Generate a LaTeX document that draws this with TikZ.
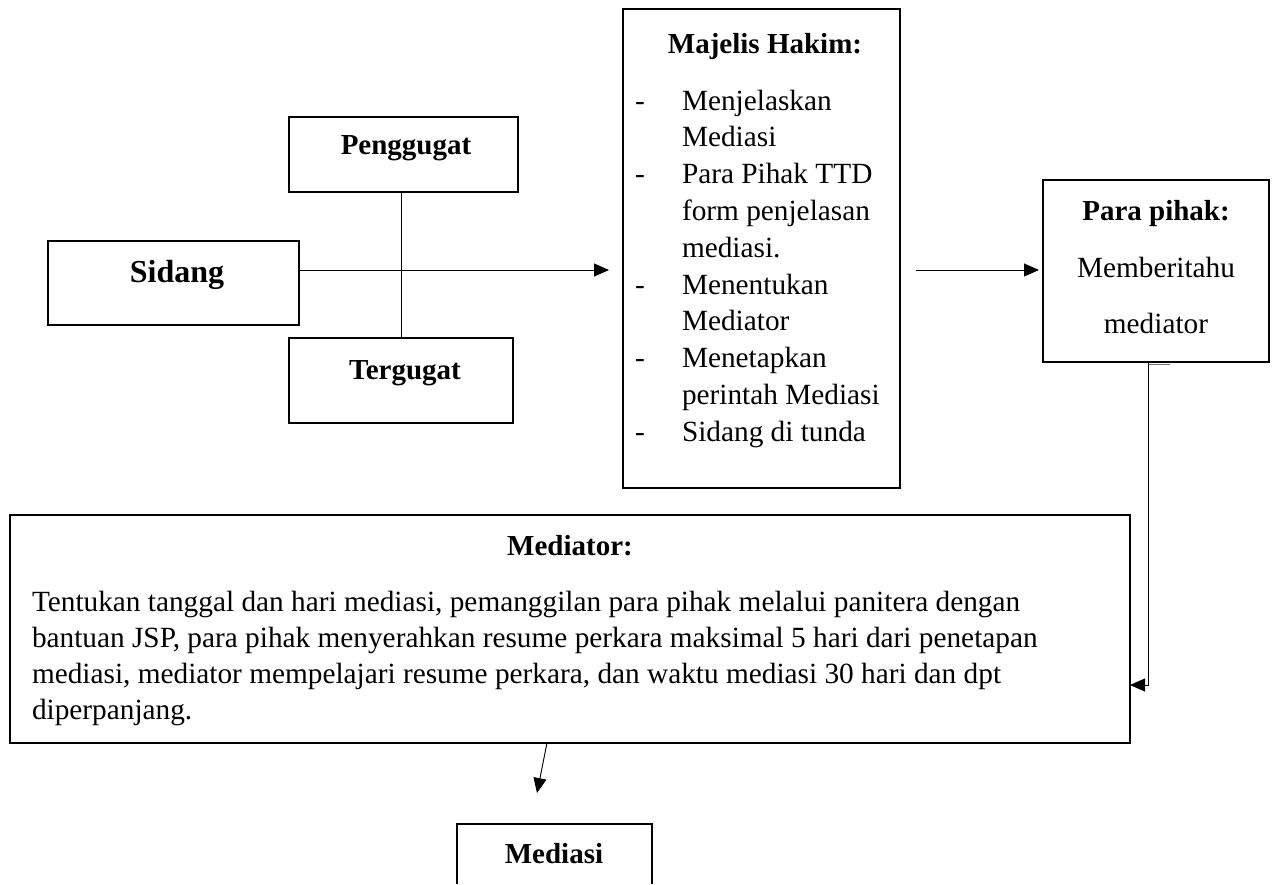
\documentclass[tikz,border=0pt]{standalone}
\usepackage{fontspec}
\setmainfont{Liberation Serif}
\usetikzlibrary{arrows.meta,calc}
\tikzset{
  box/.style={draw=black, line width=1.8pt, inner sep=0pt, outer sep=0pt},
  conn/.style={draw=black, line width=0.9pt},
  arr/.style={conn, -{Triangle[length=15pt,width=13pt]}},
  txt/.style={font=\fontsize{29.3}{35}\selectfont, inner sep=0pt, outer sep=0pt},
  bld/.style={font=\fontsize{29}{35}\selectfont\bfseries, inner sep=0pt, outer sep=0pt},
}
\begin{document}
\begin{tikzpicture}[x=1pt,y=-1pt]
\useasboundingbox (0,0) rectangle (1275,884);
% boxes
\node[box, minimum width=251pt, minimum height=84pt] (sidang) at (173.5,283) {};
\node[box, minimum width=229pt, minimum height=75pt] (penggugat) at (403.5,154.5) {};
\node[box, minimum width=224pt, minimum height=85pt] (tergugat) at (401,380.5) {};
\node[box, minimum width=277pt, minimum height=479pt] (majelis) at (761.5,248.5) {};
\node[box, minimum width=226pt, minimum height=182pt] (parapihak) at (1156,271) {};
\node[box, minimum width=1120pt, minimum height=228pt] (mediator) at (570,629) {};
\node[inner sep=0pt, outer sep=0pt, minimum width=195pt, minimum height=60pt] (mediasi) at (554.5,854) {};
\draw[line width=1.8pt] (mediasi.south west) -- (mediasi.north west) -- (mediasi.north east) -- (mediasi.south east);
% texts
\node[bld, font=\fontsize{32}{38}\selectfont\bfseries, anchor=base] (tsidang) at (177,282) {Sidang};
\node[bld, anchor=base] (tpeng) at (406,154) {Penggugat};
\node[bld, anchor=base] (tterg) at (405,379) {Tergugat};
\node[bld, anchor=base] (tmaj) at (765,53) {Majelis Hakim:};
\foreach \t [count=\i] in {Menjelaskan, Mediasi, Para Pihak TTD, form penjelasan, mediasi., Menentukan, Mediator, Menetapkan, perintah Mediasi, Sidang di tunda}
  \node[txt, anchor=base west] (mh\i) at (682,{110+36.8*(\i-1)}) {\t};
\foreach \i in {1,3,6,8,10}
  \node[txt, anchor=base west] (md\i) at (635,{110+36.8*(\i-1)}) {-};
\node[bld, anchor=base] (tpp) at (1156,220) {Para pihak:};
\node[txt, anchor=base] (tpp1) at (1156,277) {Memberitahu};
\node[txt, anchor=base] (tpp2) at (1156,333) {mediator};
\node[bld, anchor=base] (tmed) at (570,555) {Mediator:};
\foreach \t [count=\i] in {Tentukan tanggal dan hari mediasi{,} pemanggilan para pihak melalui panitera dengan, bantuan JSP{,} para pihak menyerahkan resume perkara maksimal 5 hari dari penetapan, mediasi{,} mediator mempelajari resume perkara{,} dan waktu mediasi 30 hari dan dpt, diperpanjang.}
  \node[txt, anchor=base west] (mb\i) at (32,{611+36*(\i-1)}) {\t};
\node[bld, anchor=base] (tmds) at (554,863) {Mediasi};
% connectors
\coordinate (j1) at (401,270);
\coordinate (k1) at (1148,685);
\coordinate (m1) at (537,793);
\draw[conn] (penggugat.south -| j1) -- (tergugat.north -| j1);
\draw[arr] (sidang.east |- j1) -- ([xshift=-14pt]majelis.west |- j1);
\draw[arr] ([xshift=16pt]majelis.east |- j1) -- ([xshift=-4pt]parapihak.west |- j1);
\draw[draw=black!55, line width=1pt] ([yshift=-2pt]parapihak.south -| k1) -- ++(22,0);
\draw[arr] (parapihak.south -| k1) -- (k1) -- (mediator.east |- k1);
\draw[arr] (mediator.south -| 547,0) -- (m1);
\end{tikzpicture}
\end{document}
